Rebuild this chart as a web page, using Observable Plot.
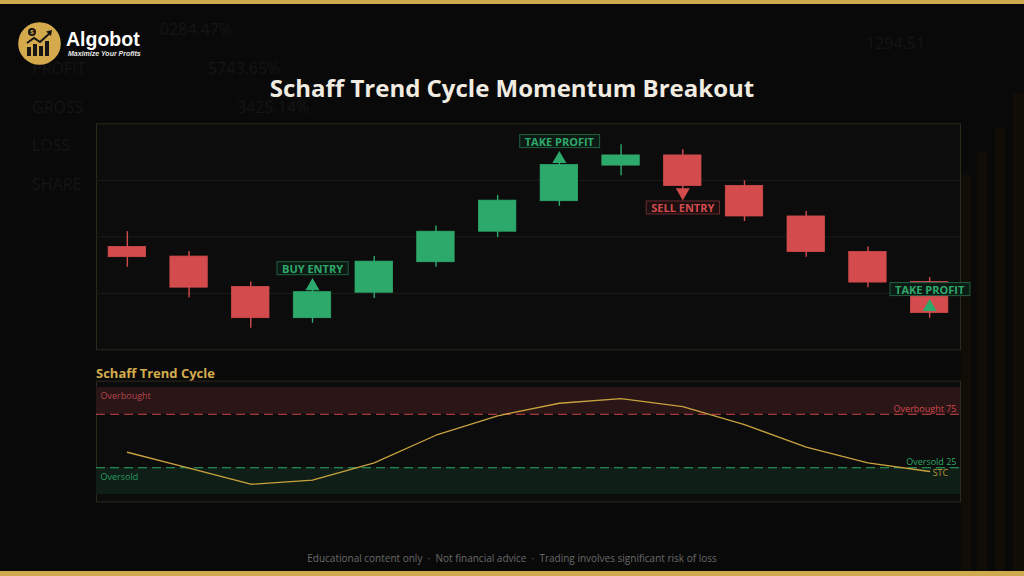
<!DOCTYPE html>
<html><head><meta charset="utf-8">
<script src="https://cdn.jsdelivr.net/npm/d3@7"></script>
<script src="https://cdn.jsdelivr.net/npm/@observablehq/plot@0.6"></script>
<style>
html,body{margin:0;padding:0;background:#090909;}
#root{position:relative;width:1024px;height:576px;overflow:hidden;background:#090909;font-family:"Open Sans",sans-serif;}
.abs{position:absolute;}
.bar-top{left:0;top:0;width:1024px;height:4px;background:#cfa94e;}
.bar-bot{left:0;top:571px;width:1024px;height:5px;background:#cfa94e;}
.ghost{position:absolute;color:#151515;font-family:"Open Sans",sans-serif;font-size:16px;letter-spacing:0px;}
.gbar{position:absolute;background:#100d07;}
#title{left:0;top:71px;width:1024px;text-align:center;font-size:24px;font-weight:700;color:#f1ece2;line-height:34px;}
#brand{left:66px;top:28px;font-family:"Liberation Sans",Arial,sans-serif;font-weight:700;font-size:19.5px;color:#ffffff;line-height:22px;}
#tag{left:68px;top:49px;font-family:"Liberation Sans",Arial,sans-serif;font-weight:700;font-style:italic;font-size:7px;color:#e8e8e8;line-height:9px;}
#stcTitle{left:96px;top:364px;font-size:13px;font-weight:700;color:#d3ac4e;line-height:18px;}
#footer{left:0;top:550px;width:1024px;text-align:center;font-size:10px;color:#6a6a6a;line-height:16px;}
#chart1{left:0;top:110px;}
#chart2{left:0;top:370px;}
svg{overflow:visible;}
</style></head>
<body><div id="root">
  <div class="ghost" style="left:160px;top:18px;">0284.47%</div>
  <div class="ghost" style="left:32px;top:57px;">PROFIT</div>
  <div class="ghost" style="left:208px;top:57px;">5743.65%</div>
  <div class="ghost" style="left:32px;top:96px;">GROSS</div>
  <div class="ghost" style="left:237px;top:96px;">3425.14%</div>
  <div class="ghost" style="left:32px;top:134px;">LOSS</div>
  <div class="ghost" style="left:32px;top:173px;">SHARE</div>
  <div class="ghost" style="left:866px;top:32px;">1294.51</div>
  <div class="gbar" style="left:961px;top:175px;width:10px;height:396px;"></div>
  <div class="gbar" style="left:977px;top:152px;width:10px;height:419px;"></div>
  <div class="gbar" style="left:995px;top:128px;width:10px;height:443px;"></div>
  <div class="gbar" style="left:1013px;top:93px;width:11px;height:478px;"></div>
  <div class="abs bar-top"></div>
  <div class="abs bar-bot"></div>
  <svg class="abs" style="left:18px;top:22px;" width="44" height="44" viewBox="0 0 44 44">
    <circle cx="21.5" cy="21.5" r="21.3" fill="#d5aa4d"/>
    <rect x="9" y="25" width="4" height="9" fill="#161616"/>
    <rect x="15" y="22" width="4" height="12" fill="#161616"/>
    <rect x="21" y="24" width="4" height="10" fill="#161616"/>
    <rect x="27" y="19" width="4" height="15" fill="#161616"/>
    <polyline points="9,21 16,16 22,20 32,11" fill="none" stroke="#161616" stroke-width="2"/>
    <polygon points="34,8 28,9.5 33,14" fill="#161616"/>
    <circle cx="14" cy="10" r="4" fill="#161616"/>
    <text x="14" y="12.3" font-size="6" font-weight="700" text-anchor="middle" fill="#d5aa4d" font-family="Liberation Sans">$</text>
  </svg>
  <div id="brand" class="abs">Algobot</div>
  <div id="tag" class="abs">Maximize Your Profits</div>
  <div id="title" class="abs">Schaff Trend Cycle Momentum Breakout</div>
  <div id="chart1" class="abs"></div>
  <div id="stcTitle" class="abs">Schaff Trend Cycle</div>
  <div id="chart2" class="abs"></div>
  <div id="footer" class="abs">Educational content only &nbsp;·&nbsp; Not financial advice &nbsp;·&nbsp; Trading involves significant risk of loss</div>
</div>
<script>
// ---- data ----
const candleIndex = [0,1,2,3,4,5,6,7,8,9,10,11,12,13];
const opens  = [98.2, 96.5, 91.1, 85.6, 90.1, 95.5, 100.9, 106.3, 112.6, 114.4, 109.0, 103.6, 97.3, 92.0];
const highs  = [100.9, 97.4, 92.0, 90.8, 96.5, 101.9, 107.3, 113.2, 116.3, 115.4, 109.9, 104.5, 98.2, 92.8];
const lows   = [94.6, 89.2, 83.8, 84.7, 89.1, 94.6, 99.9, 105.4, 110.8, 108.4, 102.7, 96.4, 91.0, 85.6];
const closes = [96.4, 91.0, 85.6, 90.2, 95.6, 100.9, 106.4, 112.7, 114.4, 109.0, 103.6, 97.3, 91.9, 86.5];
const priceDomain = [80, 120];
const priceGrid = [90, 100, 110];

const signalIndex  = [3, 7, 9, 13];
const signalLabels = ["BUY ENTRY", "TAKE PROFIT", "SELL ENTRY", "TAKE PROFIT"];
const signalDirs   = ["up", "up", "down", "up"];

const stcValues = [39.5, 24.6, 9.6, 13.4, 29.6, 55.4, 73.6, 85.3, 89.7, 82.2, 65.4, 44.2, 29.6, 21.5];
const stcDomain = [-7, 106];
const zoneNames = ["Overbought", "Oversold"];
const zoneLo = [75, 0];
const zoneHi = [100, 25];
const thresholdValues = [75, 25];
const thresholdLabels = ["Overbought 75", "Oversold 25"];

// ---- styles ----
const GREEN = "#2ea96c", RED = "#d34b4d", GOLD = "#c9a23e";

const candles = candleIndex.map((i, k) => ({i, open: opens[k], high: highs[k], low: lows[k], close: closes[k]}));
const candleColor = d => d.close >= d.open ? GREEN : RED;
const signals = signalIndex.map((i, k) => ({i, close: closes[i], label: signalLabels[k], dir: signalDirs[k],
  color: signalDirs[k] === "up" ? GREEN : RED}));

const chart1 = Plot.plot({
  width: 1024, height: 250,
  marginLeft: 96, marginRight: 64, marginTop: 13.3, marginBottom: 10.7,
  x: {domain: [-0.5, 13.5], axis: null},
  y: {domain: priceDomain, axis: null},
  color: {type: "identity"},
  style: {background: "transparent", overflow: "visible"},
  marks: [
    Plot.frame({fill: "#0c0c0c", stroke: "#2d291d"}),
    Plot.ruleY(priceGrid, {stroke: "#1c1c1a", strokeWidth: 1}),
    Plot.ruleX(candles, {x: "i", y1: "low", y2: "high", stroke: candleColor, strokeWidth: 1.4}),
    Plot.rect(candles, {x1: d => d.i - 0.303, x2: d => d.i + 0.303, y1: "open", y2: "close",
      fill: candleColor, stroke: candleColor, strokeWidth: 0.8}),
    Plot.dot(signals, {filter: d => d.dir === "up", x: "i", y: "close", symbol: "triangle", r: 5.2,
      fill: "color", stroke: null, dy: -6}),
    Plot.dot(signals, {filter: d => d.dir === "down", x: "i", y: "close", symbol: "triangle", r: 5.2,
      fill: "color", stroke: null, rotate: 180, dy: 6.4}),
    Plot.text(signals, {filter: d => d.dir === "up", x: "i", y: "close", text: "label", fill: "color",
      dy: -23, fontSize: 11, fontWeight: 700, lineAnchor: "middle",
      fontFamily: "Open Sans", letterSpacing: "0.2px"}),
    Plot.text(signals, {filter: d => d.dir === "down", x: "i", y: "close", text: "label", fill: "color",
      dy: 22.5, fontSize: 11, fontWeight: 700, lineAnchor: "middle",
      fontFamily: "Open Sans", letterSpacing: "0.2px"})
  ]
});
document.getElementById("chart1").appendChild(chart1);

// boxes behind signal labels
const labelSet = new Set(signalLabels);
const NS = "http://www.w3.org/2000/svg";
Array.from(chart1.querySelectorAll("text")).filter(t => labelSet.has(t.textContent.trim())).forEach(t => {
  const b = t.getBBox();
  const f = (t.getAttribute("fill") || t.parentNode.getAttribute("fill") || "").toLowerCase();
  const isG = f === GREEN;
  const r = document.createElementNS(NS, "rect");
  r.setAttribute("x", b.x - 5);
  r.setAttribute("y", b.y + b.height / 2 - 6.5);
  r.setAttribute("width", b.width + 10);
  r.setAttribute("height", 13);
  r.setAttribute("fill", isG ? "#0d1a13" : "#1c0f10");
  r.setAttribute("stroke", isG ? "#1f6142" : "#6e2a2c");
  r.setAttribute("stroke-width", "1");
  if (t.getAttribute("transform")) r.setAttribute("transform", t.getAttribute("transform"));
  t.parentNode.insertBefore(r, t);
});

const zones = zoneNames.map((name, k) => ({name, lo: zoneLo[k], hi: zoneHi[k],
  fill: k === 0 ? "#2a1517" : "#0f1e16", color: k === 0 ? "#b8474b" : "#2a9a62"}));
const thresholds = thresholdValues.map((v, k) => ({v, label: thresholdLabels[k], color: k === 0 ? "#d0474b" : "#2aa866"}));
const stc = candleIndex.map((i, k) => ({i, v: stcValues[k]}));
const stcLast = [stc[stc.length - 1]];

const chart2 = Plot.plot({
  width: 1024, height: 140,
  marginLeft: 96, marginRight: 64, marginTop: 10.6, marginBottom: 8.5,
  x: {domain: [-0.5, 13.5], axis: null},
  y: {domain: stcDomain, axis: null},
  color: {type: "identity"},
  style: {background: "transparent", overflow: "visible"},
  marks: [
    Plot.frame({fill: "#0c0c0c", stroke: "#2d291d"}),
    Plot.rect(zones, {y1: "lo", y2: "hi", fill: "fill"}),
    Plot.ruleY(thresholds, {y: "v", stroke: "color", strokeDasharray: "9,5", strokeWidth: 1.2}),
    Plot.text(zones, {y: "hi", text: "name", fill: "color", frameAnchor: "left", textAnchor: "start",
      dx: 4, dy: 9, fontSize: 9, lineAnchor: "middle", fontFamily: "Open Sans"}),
    Plot.text(thresholds, {y: "v", text: "label", fill: "color", frameAnchor: "right", textAnchor: "end",
      dx: -4, dy: -5.5, fontSize: 9, lineAnchor: "middle", fontFamily: "Open Sans"}),
    Plot.line(stc, {x: "i", y: "v", stroke: GOLD, strokeWidth: 1.3}),
    Plot.text(stcLast, {x: "i", y: "v", text: () => "STC", fill: "#b8963c", textAnchor: "start",
      dx: 3, dy: 1.5, fontSize: 9, lineAnchor: "middle", fontFamily: "Open Sans"})
  ]
});
document.getElementById("chart2").appendChild(chart2);
</script>
</body></html>
